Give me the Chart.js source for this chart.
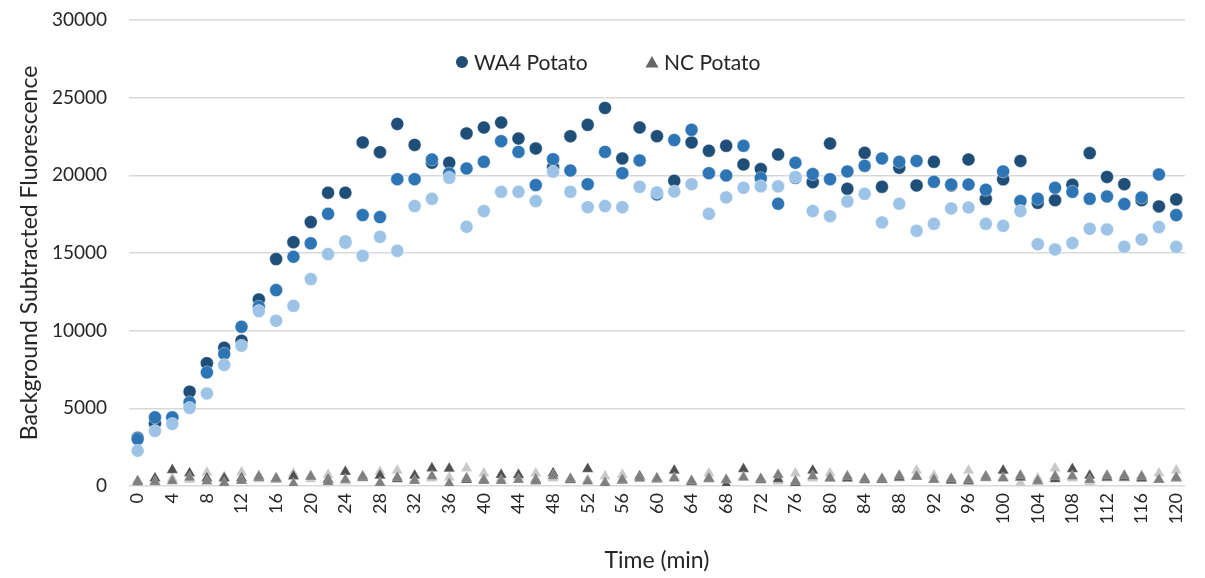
<!DOCTYPE html>
<html>
<head>
<meta charset="utf-8">
<script src="https://cdn.jsdelivr.net/npm/chart.js@4.4.1/dist/chart.umd.min.js"></script>
<style>
  html, body { margin: 0; padding: 0; background: #fff; }
  #wrap { width: 1205px; height: 578px; }
</style>
</head>
<body>
<div id="wrap"><canvas id="fluoChart"></canvas></div>
<script>
// sampling times (min)
const times = [0, 2, 4, 6, 8, 10, 12, 14, 16, 18, 20, 22, 24, 26, 28, 30, 32, 34, 36, 38, 40,
  42, 44, 46, 48, 50, 52, 54, 56, 58, 60, 62, 64, 66, 68, 70, 72, 74, 76, 78, 80,
  82, 84, 86, 88, 90, 92, 94, 96, 98, 100, 102, 104, 106, 108, 110, 112, 114, 116, 118, 120];

// WA4 potato replicates
const wa4Rep1 = [3100, 4030, 4400, 6070, 7910, 8900, 9350, 12010, 14610, 15700, 16990, 18880, 18880, 22120, 21490, 23310, 21960, 20810, 20810, 22700, 23080,
  23400, 22370, 21730, 20510, 22520, 23250, 24340, 21090, 23080, 22520, 19650, 22120, 21580, 21900, 20700, 20400, 21340, 19840, 19560, 22050,
  19130, 21450, 19260, 20490, 19350, 20870, 19350, 21020, 18470, 19740, 20930, 18230, 18400, 19390, 21430, 19900, 19430, 18400, 18000, 18450];
const wa4Rep2 = [3020, 4420, 4420, 5380, 7310, 8510, 10250, 11540, 12610, 14760, 15620, 17520, 15720, 17440, 17310, 19750, 19750, 21020, 20120, 20440, 20870,
  22200, 21510, 19370, 21040, 20310, 19430, 21510, 20140, 20960, 18770, 22270, 22930, 20140, 19990, 21900, 19820, 18170, 20810, 20080, 19750,
  20250, 20610, 21090, 20870, 20930, 19580, 19410, 19410, 19070, 20250, 18340, 18490, 19200, 18940, 18490, 18640, 18150, 18580, 20060, 17440];
const wa4Rep3 = [2270, 3540, 3990, 5020, 5960, 7790, 9030, 11260, 10640, 11600, 13320, 14930, 15660, 14820, 16040, 15140, 18020, 18490, 19840, 16690, 17700,
  18940, 18940, 18340, 20230, 18940, 17950, 18020, 17950, 19260, 18900, 18960, 19430, 17520, 18580, 19200, 19290, 19290, 19900, 17700, 17370,
  18320, 18810, 16970, 18170, 16430, 16880, 17870, 17930, 16880, 16750, 17700, 15570, 15230, 15640, 16560, 16520, 15400, 15870, 16670, 15400];

// NC potato replicates
const ncRep1 = [250, 500, 1030, 820, 500, 500, 500, 550, 450, 630, 620, 400, 920, 550, 670, 450, 670, 1150, 1120, 400, 400,
  730, 720, 400, 820, 400, 1100, 200, 350, 620, 450, 1000, 250, 450, 100, 1100, 400, 450, 200, 1000, 500,
  500, 400, 400, 550, 600, 400, 350, 300, 550, 1000, 550, 300, 450, 1100, 670, 550, 550, 500, 400, 500];
const ncRep2 = [320, 260, 320, 540, 300, 200, 330, 630, 500, 150, 600, 250, 410, 630, 200, 540, 330, 630, 150, 500, 330,
  330, 400, 300, 650, 470, 300, 100, 400, 500, 500, 500, 330, 500, 400, 540, 470, 720, 300, 620, 500,
  620, 470, 470, 670, 620, 400, 470, 400, 620, 500, 670, 330, 620, 620, 400, 670, 670, 620, 400, 540];
const ncRep3 = [200, 350, 500, 400, 870, 600, 880, 450, 400, 800, 450, 720, 300, 500, 920, 1000, 450, 500, 540, 1150, 820,
  500, 600, 820, 500, 350, 400, 620, 720, 450, 400, 600, 300, 820, 350, 600, 350, 300, 820, 500, 820,
  450, 350, 400, 500, 1000, 670, 400, 1000, 500, 600, 200, 500, 1150, 500, 250, 500, 500, 450, 820, 1000];

const seriesNames = ['WA4 Potato', 'NC Potato'];

const fontFamily = 'Lato, "Open Sans", sans-serif';
const textColor = '#262626';

function dots(label, data, color) {
  return {
    label: label,
    data: data,
    showLine: false,
    pointStyle: 'circle',
    pointRadius: 6.5,
    pointHoverRadius: 6.5,
    pointBackgroundColor: color,
    pointBorderColor: 'rgba(255,255,255,0.5)',
    pointBorderWidth: 0.8
  };
}

function tris(label, data, color) {
  return {
    label: label,
    data: data,
    showLine: false,
    pointStyle: 'triangle',
    pointRadius: 6.5,
    pointHoverRadius: 6.5,
    pointBackgroundColor: color,
    pointBorderColor: 'rgba(255,255,255,0.4)',
    pointBorderWidth: 0.6
  };
}

// legend sits inside the plot, between the top two gridlines
const insideLegend = {
  id: 'insideLegend',
  afterDraw(chart) {
    const ctx = chart.ctx;
    const area = chart.chartArea;
    const mid = (area.left + area.right) / 2;
    const y = area.top + 42;
    ctx.save();
    ctx.font = '21px ' + fontFamily;
    ctx.textBaseline = 'middle';
    ctx.textAlign = 'left';

    let x = mid - 195;
    ctx.beginPath();
    ctx.arc(x, y, 6, 0, Math.PI * 2);
    ctx.fillStyle = '#1f4e79';
    ctx.fill();
    ctx.fillStyle = textColor;
    ctx.fillText(seriesNames[0], x + 12, y + 1);

    x = mid - 5;
    ctx.beginPath();
    ctx.moveTo(x, y - 6);
    ctx.lineTo(x + 6.5, y + 5.5);
    ctx.lineTo(x - 6.5, y + 5.5);
    ctx.closePath();
    ctx.fillStyle = '#666666';
    ctx.fill();
    ctx.fillStyle = textColor;
    ctx.fillText(seriesNames[1], x + 12, y + 1);
    ctx.restore();
  }
};

const ctx = document.getElementById('fluoChart').getContext('2d');

// first dataset is painted last, so light blue and mid grey end up on top
new Chart(ctx, {
  type: 'line',
  data: {
    labels: times,
    datasets: [
      dots(seriesNames[0], wa4Rep3, '#9dc3e6'),
      dots(seriesNames[0], wa4Rep2, '#2e75b6'),
      dots(seriesNames[0], wa4Rep1, '#1f4e79'),
      tris(seriesNames[1], ncRep2, '#7f7f7f'),
      tris(seriesNames[1], ncRep1, '#505050'),
      tris(seriesNames[1], ncRep3, '#c8c8c8')
    ]
  },
  plugins: [insideLegend],
  options: {
    responsive: true,
    maintainAspectRatio: false,
    animation: false,
    layout: { padding: { top: 0, right: 20, left: 0, bottom: 0 } },
    plugins: {
      legend: { display: false },
      tooltip: { enabled: false }
    },
    scales: {
      x: {
        type: 'category',
        offset: true,
        grid: { display: false, drawTicks: false },
        border: { display: false },
        ticks: {
          autoSkip: false,
          minRotation: 90,
          maxRotation: 90,
          padding: 7,
          color: textColor,
          font: { family: fontFamily, size: 18 },
          callback: function (value, index) {
            return times[index] % 4 === 0 ? String(times[index]) : '';
          }
        },
        title: {
          display: true,
          text: 'Time (min)',
          color: textColor,
          font: { family: fontFamily, size: 23 },
          padding: { top: 0, bottom: 4 }
        },
        afterFit: function (scale) { scale.height = 92; }
      },
      y: {
        min: 0,
        max: 30000,
        grid: { color: '#d9d9d9', lineWidth: 1.5, drawTicks: false },
        border: { display: false },
        ticks: {
          stepSize: 5000,
          padding: 22,
          color: textColor,
          font: { family: fontFamily, size: 19 },
          callback: function (value) { return String(value); }
        },
        title: {
          display: true,
          text: 'Background Subtracted Fluorescence',
          color: textColor,
          font: { family: fontFamily, size: 23 },
          padding: { top: 16, bottom: 0 }
        },
        afterFit: function (scale) {
          scale.width = 129;
          // tick padding would otherwise push the plot top down
          scale.paddingTop = 20;
          scale.paddingBottom = 10;
        }
      }
    }
  }
});
</script>
</body>
</html>
